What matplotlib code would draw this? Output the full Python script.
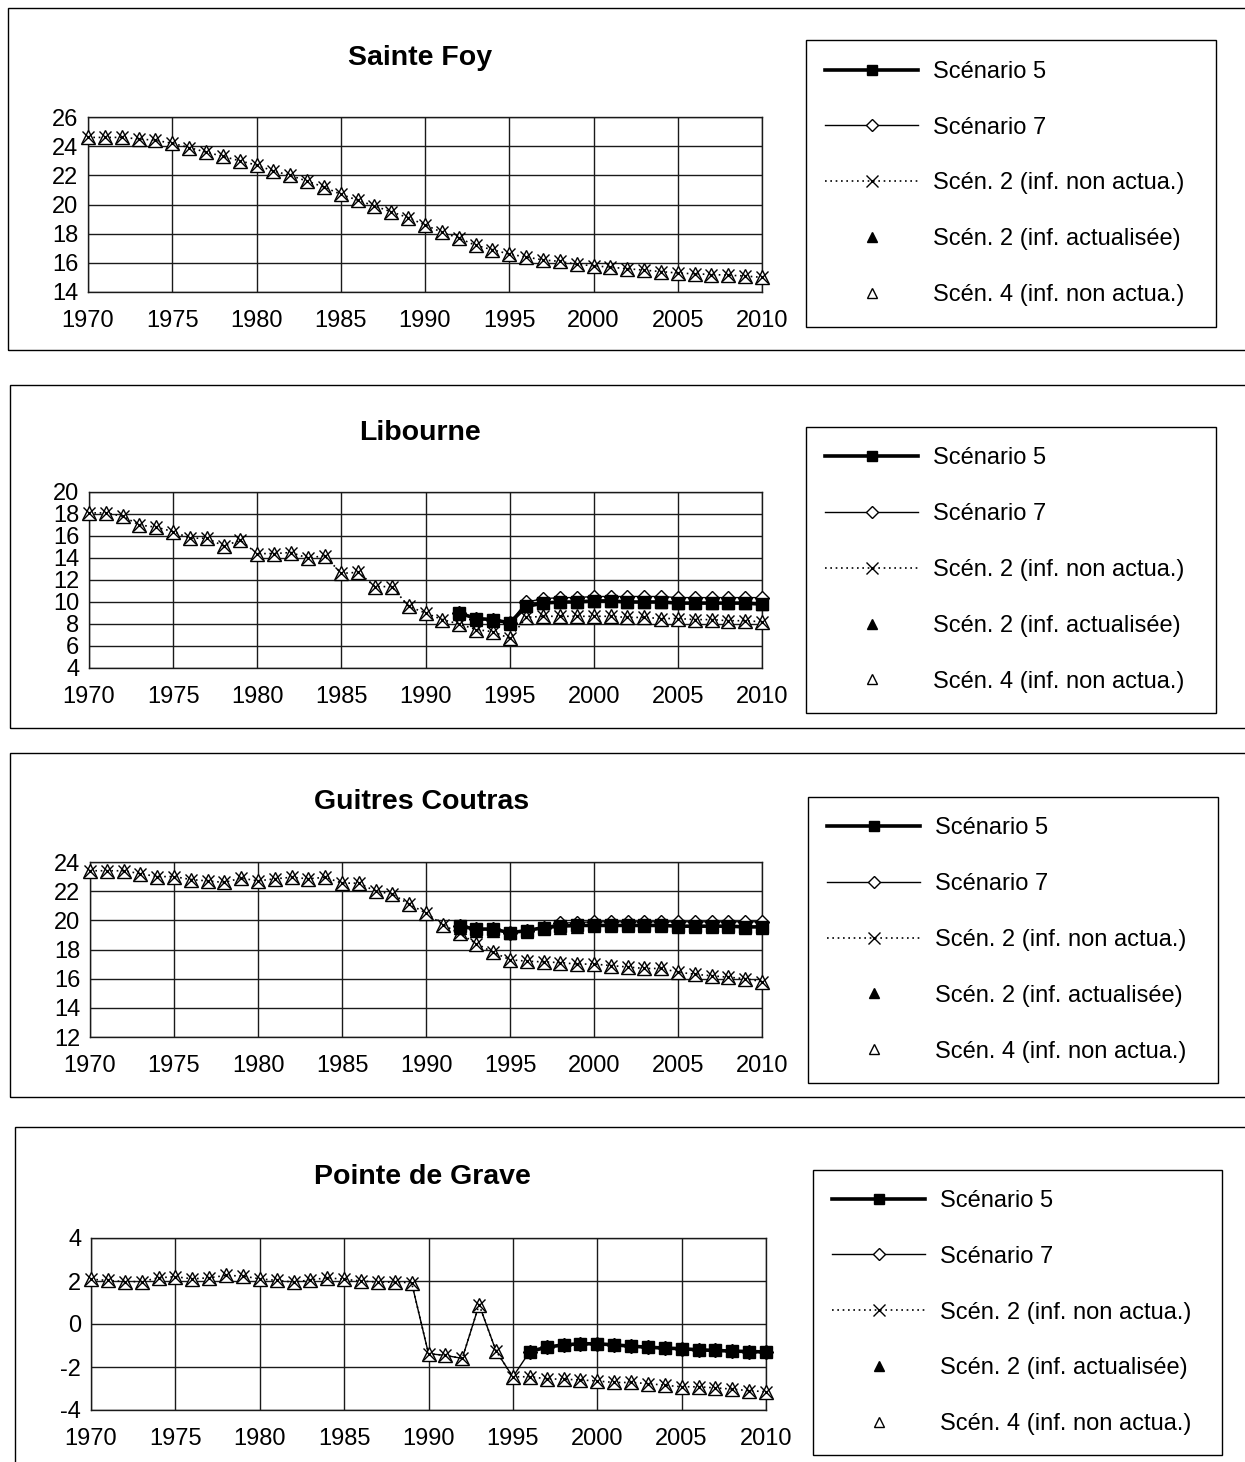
import matplotlib
matplotlib.use("Agg")
import matplotlib.pyplot as plt
from matplotlib.lines import Line2D
from matplotlib.patches import Rectangle

plt.rcParams['font.family'] = ['Liberation Sans', 'DejaVu Sans']
plt.rcParams['axes.unicode_minus'] = False

W, H = 1245, 1462

years = list(range(1970, 2011))
proj_years = list(range(1992, 2011))
late_years = list(range(1996, 2011))

labels = ["Scénario 5", "Scénario 7", "Scén. 2 (inf. non actua.)",
          "Scén. 2 (inf. actualisée)", "Scén. 4 (inf. non actua.)"]

# --- Sainte Foy: all scenarios on the same path
sf_all = [24.6, 24.6, 24.6, 24.5, 24.4, 24.2, 23.9, 23.6, 23.3, 23.0,
          22.7, 22.3, 22.0, 21.6, 21.2, 20.7, 20.3, 19.9, 19.5, 19.1,
          18.6, 18.1, 17.7, 17.2, 16.9, 16.6, 16.4, 16.2, 16.1, 15.9,
          15.8, 15.7, 15.6, 15.5, 15.4, 15.3, 15.25, 15.2, 15.15, 15.1, 15.0]

# --- Libourne
lib_hist = [18.1, 18.1, 17.8, 17.0, 16.8, 16.4, 15.8, 15.8, 15.1, 15.6,
            14.4, 14.4, 14.5, 14.0, 14.2, 12.6, 12.7, 11.4, 11.4, 9.6,
            9.0, 8.4]
lib_s4 = [8.0, 7.5, 7.3, 6.7, 8.6, 8.7, 8.7, 8.7, 8.7, 8.7,
          8.6, 8.6, 8.5, 8.5, 8.4, 8.4, 8.3, 8.3, 8.2]
lib_s5 = [9.0, 8.5, 8.4, 8.1, 9.6, 9.9, 10.0, 10.0, 10.1, 10.1,
          10.0, 10.0, 10.0, 9.9, 9.9, 9.9, 9.9, 9.9, 9.8]
lib_s7 = [9.0, 8.5, 8.4, 8.1, 10.0, 10.3, 10.4, 10.4, 10.5, 10.5,
          10.5, 10.5, 10.5, 10.4, 10.4, 10.4, 10.4, 10.4, 10.4]
lib_s2a = [8.9, 8.4, 8.3, 8.0, 9.6, 9.9, 10.0, 10.0, 10.1, 10.1,
           10.0, 10.0, 10.0, 9.9, 9.9, 9.9, 9.9, 9.9, 9.8]

# --- Guitres Coutras
gc_hist = [23.4, 23.4, 23.4, 23.2, 23.0, 23.0, 22.8, 22.7, 22.6, 22.9,
           22.7, 22.85, 22.95, 22.85, 22.95, 22.55, 22.55, 22.0, 21.8, 21.1,
           20.5, 19.7]
gc_s4 = [19.1, 18.4, 17.8, 17.3, 17.2, 17.15, 17.1, 17.0, 17.0, 16.9,
         16.8, 16.7, 16.7, 16.45, 16.3, 16.2, 16.1, 16.0, 15.8]
gc_s5 = [19.6, 19.4, 19.4, 19.15, 19.3, 19.5, 19.6, 19.65, 19.65, 19.65,
         19.65, 19.65, 19.65, 19.6, 19.6, 19.6, 19.6, 19.55, 19.55]
gc_s7 = [19.6, 19.4, 19.4, 19.15, 19.3, 19.5, 19.8, 19.85, 19.9, 19.9,
         19.9, 19.9, 19.9, 19.9, 19.9, 19.9, 19.9, 19.9, 19.9]
gc_s2a = [19.5, 19.3, 19.3, 19.1, 19.2, 19.4, 19.5, 19.55, 19.6, 19.6,
          19.6, 19.6, 19.6, 19.55, 19.55, 19.55, 19.55, 19.5, 19.5]

# --- Pointe de Grave
pg_all = [2.08, 2.03, 1.97, 1.97, 2.15, 2.2, 2.1, 2.15, 2.26, 2.23,
          2.1, 2.03, 1.95, 2.05, 2.15, 2.08, 2.0, 1.95, 1.95, 1.92,
          -1.38, -1.46, -1.6, 0.9, -1.25, -2.46,
          -2.45, -2.55, -2.57, -2.6, -2.65, -2.72, -2.72, -2.77, -2.85, -2.92,
          -2.92, -2.97, -3.03, -3.1, -3.15]
pg_s5 = [-1.28, -1.08, -0.97, -0.92, -0.92, -0.97, -1.03, -1.08, -1.12, -1.15,
         -1.2, -1.23, -1.26, -1.28, -1.3]


def fig_box(l, t, r, b):
    return [l / W, 1 - b / H, (r - l) / W, (b - t) / H]


styles = {
    "s5": dict(color="black", lw=2.6, marker="s", ms=8.5, mfc="black", mec="black"),
    "s7": dict(color="black", lw=1.0, marker="D", ms=7, mfc="white", mec="black", mew=1.0),
    "s2na": dict(color="black", lw=1.2, ls=(0, (1, 2.2)), marker="x", ms=8.5, mew=1.0),
    "s2a": dict(color="black", ls="none", marker="^", ms=9, mfc="black", mec="black"),
    "s4": dict(color="black", ls="none", marker="^", ms=10.5, mfc="white", mec="black", mew=1.0),
}

legend_styles = {
    "s5": dict(styles["s5"], ms=7),
    "s7": dict(styles["s7"], ms=6),
    "s2na": dict(styles["s2na"], ms=8),
    "s2a": dict(styles["s2a"], ms=7),
    "s4": dict(styles["s4"], ms=6.5),
}

# per-panel series as (years, values)
panels = [
    dict(title="Sainte Foy", ylim=(14, 26), step=2,
         ax=(88, 117, 762, 292), leg=(806, 40, 1216, 327),
         frame=(8, 8, 1300, 350), title_xy=(420, 58),
         series={"s2na": (years, sf_all), "s4": (years, sf_all)}),
    dict(title="Libourne", ylim=(4, 20), step=2,
         ax=(89, 492, 762, 668), leg=(806, 427, 1216, 713),
         frame=(10, 385, 1300, 728), title_xy=(420, 433),
         series={"s7": (proj_years, lib_s7), "s5": (proj_years, lib_s5),
                 "s2a": (proj_years, lib_s2a),
                 "s4": (years, lib_hist + lib_s4), "s2na": (years, lib_hist + lib_s4)}),
    dict(title="Guitres Coutras", ylim=(12, 24), step=2,
         ax=(90, 862, 762, 1037), leg=(808, 797, 1218, 1083),
         frame=(10, 753, 1300, 1097), title_xy=(422, 802),
         series={"s7": (proj_years, gc_s7), "s5": (proj_years, gc_s5),
                 "s2a": (proj_years, gc_s2a),
                 "s4": (years, gc_hist + gc_s4), "s2na": (years, gc_hist + gc_s4)}),
    dict(title="Pointe de Grave", ylim=(-4, 4), step=2,
         ax=(91, 1238, 766, 1410), leg=(813, 1170, 1222, 1455),
         frame=(15, 1127, 1300, 1500), title_xy=(422, 1177),
         series={"s2na": (years, pg_all), "s4": (years, pg_all),
                 "s7": (years[19:], pg_all[19:26] + pg_s5),
                 "s5": (late_years, pg_s5)}),
]

draw_order = ["s7", "s4", "s2na", "s2a", "s5"]
keys = ["s5", "s7", "s2na", "s2a", "s4"]

fig = plt.figure(figsize=(W / 100, H / 100), dpi=100)

for p in panels:
    ax = fig.add_axes(fig_box(*p["ax"]))
    for k in draw_order:
        if k not in p["series"]:
            continue
        xs, ys = p["series"][k]
        st = dict(styles[k])
        if p["title"] == "Pointe de Grave" and k == "s7":
            st["markevery"] = slice(7, None)
        ax.plot(xs, ys, **st, zorder=3 if k != "s5" else 4, clip_on=False)

    y0, y1 = p["ylim"]
    ax.set_xlim(1970, 2010)
    ax.set_ylim(y0, y1)
    ax.set_xticks(range(1970, 2011, 5))
    ax.set_yticks(range(y0, y1 + 1, p["step"]))
    ax.grid(True, color="#1a1a1a", lw=1.0)
    ax.set_axisbelow(True)
    ax.tick_params(length=0, labelsize=17, pad=7)
    ax.tick_params(axis="x", pad=13)
    for s in ax.spines.values():
        s.set_linewidth(1.0)
        s.set_color("#1a1a1a")

    fig.text(p["title_xy"][0] / W, 1 - p["title_xy"][1] / H, p["title"],
             ha="center", va="center", fontsize=20.5, fontweight="bold")

    # legend box
    l, t, r, b = p["leg"]
    fig.add_artist(Rectangle((l / W, 1 - b / H), (r - l) / W, (b - t) / H,
                             transform=fig.transFigure, fill=False,
                             ec="black", lw=1.0))
    handles = [Line2D([], [], **legend_styles[k]) for k in keys]
    fig.legend(handles, labels, loc="center left",
               bbox_to_anchor=((l + 19) / W, 1 - (t + b) / 2 / H),
               frameon=False, fontsize=17, handlelength=3.95,
               handletextpad=0.62, labelspacing=1.43,
               borderpad=0, borderaxespad=0)

    # panel frame
    fl, ft, fr, fb = p["frame"]
    fig.add_artist(Rectangle((fl / W, 1 - fb / H), (fr - fl) / W, (fb - ft) / H,
                             transform=fig.transFigure, fill=False,
                             ec="black", lw=1.0))

fig.savefig("out.png", dpi=100)
